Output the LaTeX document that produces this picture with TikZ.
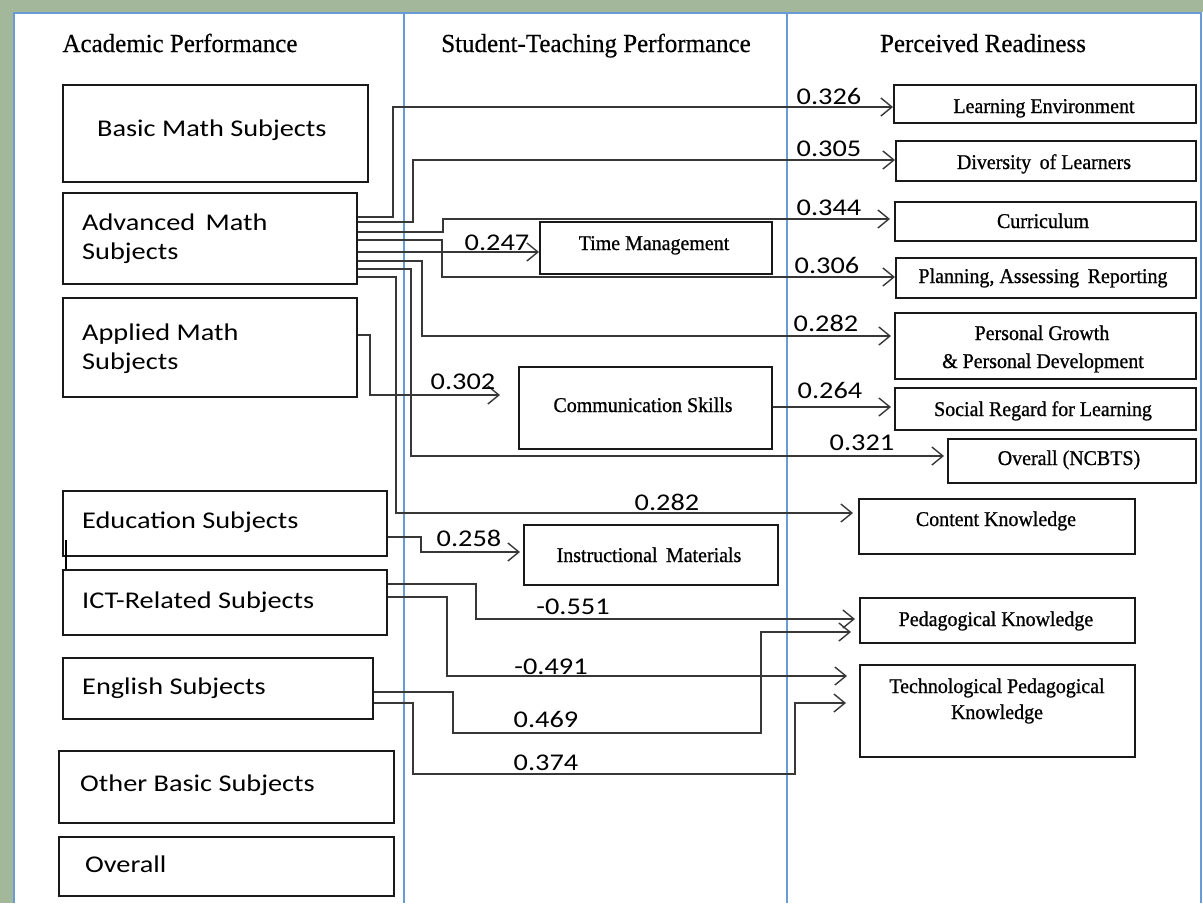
\documentclass[tikz,border=0pt]{standalone}
\usepackage{fontspec}
\usetikzlibrary{arrows.meta,calc}
\newfontfamily\sansf[FakeStretch=1.18]{Carlito}
\newfontfamily\serff[FakeStretch=0.95,FakeBold=0.8]{Liberation Serif}
\newfontfamily\serfh[FakeStretch=0.96,FakeBold=0.5]{Liberation Serif}
\definecolor{bggreen}{RGB}{163,184,155}
\definecolor{frameblue}{RGB}{105,155,215}
\definecolor{linegray}{RGB}{55,55,55}
\tikzset{
  box/.style={draw=black!90, line width=1.5pt, anchor=north west, inner sep=0pt},
  lt/.style={font=\sansf\fontsize{24}{29}\selectfont, anchor=base west, inner sep=0pt},
  num/.style={font=\sansf\fontsize{24}{29}\selectfont, inner sep=0pt},
  st/.style={font=\serff\fontsize{21}{25}\selectfont, anchor=base, inner sep=0pt},
  hd/.style={font=\serfh\fontsize{26}{30}\selectfont, anchor=base, inner sep=0pt},
  conn/.style={draw=linegray, line width=1.5pt},
  arr/.style={conn, -{Straight Barb[length=11pt,width=18pt,line width=1.4pt]}},
}
\begin{document}
\begin{tikzpicture}[x=1pt,y=-1pt]
\useasboundingbox (0,0) rectangle (1203,903);
\fill[bggreen] (0,0) rectangle (1203,903);
\fill[white] (13,12) rectangle (1203,903);
\draw[frameblue, line width=1.2pt] (14,903) -- (14,13) -- (1201,13) -- (1201,903);
\draw[frameblue, line width=1.2pt] (404,13) -- (404,903) (787,13) -- (787,903);

% headers
\node[hd] (h1) at (180,52) {Academic Performance};
\node[hd] (h2) at (596,52) {Student-Teaching Performance};
\node[hd] (h3) at (983,52) {Perceived Readiness};

% left boxes
\node[box, minimum width=305pt, minimum height=97pt] (basic) at (62,84) {};
\node[box, minimum width=294pt, minimum height=91pt] (adv) at (62,192) {};
\node[box, minimum width=294pt, minimum height=99pt] (appl) at (62,297) {};
\node[box, minimum width=324pt, minimum height=65pt] (edu) at (62,490) {};
\node[box, minimum width=324pt, minimum height=65pt] (ict) at (62,569) {};
\node[box, minimum width=310pt, minimum height=61pt] (eng) at (62,657) {};
\node[box, minimum width=335pt, minimum height=72pt] (other) at (58,750) {};
\node[box, minimum width=335pt, minimum height=59pt] (ovl) at (58,836) {};

\node[lt] (tbasic) at (97,136) {Basic Math Subjects};
\node[lt] (tadv1) at (82,230) {Advanced\, Math};
\node[lt] (tadv2) at (82,259) {Subjects};
\node[lt] (tappl1) at (82,340) {Applied Math};
\node[lt] (tappl2) at (82,369) {Subjects};
\node[lt] (tedu) at (82,528) {Education Subjects};
\node[lt] (tict) at (82,608) {ICT-Related Subjects};
\node[lt] (teng) at (82,694) {English Subjects};
\node[lt] (tother) at (80,791) {Other Basic Subjects};
\node[lt] (tovl) at (85,872) {Overall};

% middle boxes
\node[box, minimum width=232pt, minimum height=52pt] (tm) at (539,221) {};
\node[box, minimum width=253pt, minimum height=82pt] (cs) at (518,366) {};
\node[box, minimum width=254pt, minimum height=60pt] (im) at (523,524) {};
\node[st] (ttm) at (654,250) {Time Management};
\node[st] (tcs) at (643,412) {Communication Skills};
\node[st] (tim) at (649,562) {Instructional\, Materials};

% right boxes
\node[box, minimum width=302pt, minimum height=38pt] (le) at (893,84) {};
\node[box, minimum width=300pt, minimum height=40pt] (dl) at (895,140) {};
\node[box, minimum width=301pt, minimum height=39pt] (cu) at (894,201) {};
\node[box, minimum width=300pt, minimum height=40pt] (pa) at (895,257) {};
\node[box, minimum width=301pt, minimum height=66pt] (pg) at (894,312) {};
\node[box, minimum width=301pt, minimum height=42pt] (sr) at (894,387) {};
\node[box, minimum width=248pt, minimum height=44pt] (on) at (947,438) {};
\node[box, minimum width=276pt, minimum height=55pt] (ck) at (858,498) {};
\node[box, minimum width=275pt, minimum height=45pt] (pk) at (859,597) {};
\node[box, minimum width=275pt, minimum height=92pt] (tpk) at (859,664) {};

\node[st] (tle) at (1044,113) {Learning Environment};
\node[st] (tdl) at (1044,169) {Diversity\, of Learners};
\node[st] (tcu) at (1043,228) {Curriculum};
\node[st] (tpa) at (1043,283) {Planning, Assessing\, Reporting};
\node[st] (tpg1) at (1042,340) {Personal Growth};
\node[st] (tpg2) at (1043,368) {\& Personal Development};
\node[st] (tsr) at (1043,416) {Social Regard for Learning};
\node[st] (ton) at (1069,465) {Overall (NCBTS)};
\node[st] (tck) at (996,526) {Content Knowledge};
\node[st] (tpk1) at (996,626) {Pedagogical Knowledge};
\node[st] (ttpk1) at (997,693) {Technological Pedagogical};
\node[st] (ttpk2) at (997,719) {Knowledge};

% connectors
\draw[arr] (adv.east |- 0,217) -- (393,217) -- (393,107) -- (le.west |- 0,107);
\draw[arr] (adv.east |- 0,222) -- (413,222) -- (413,160) -- (dl.west |- 0,160);
\draw[arr, shorten >=4pt] (adv.east |- 0,232) -- (443,232) -- (443,219) -- (cu.west |- 0,219);
\draw[arr] (adv.east |- 0,252) -- (tm.west |- 0,252);
\draw[arr] (adv.east |- 0,240) -- (442,240) -- (442,277) -- (pa.west |- 0,277);
\draw[arr, shorten >=3pt] (adv.east |- 0,261) -- (422,261) -- (422,336) -- (pg.west |- 0,336);
\draw[arr, shorten >=3pt] (adv.east |- 0,269) -- (411,269) -- (411,456) -- (on.west |- 0,456);
\draw[arr, shorten >=5pt] (adv.east |- 0,277) -- (396,277) -- (396,513) -- (ck.west |- 0,513);
\draw[arr, shorten >=18pt] (appl.east |- 0,335) -- (370,335) -- (370,395) -- (cs.west |- 0,395);
\draw[arr, shorten >=3pt] (cs.east |- 0,407) -- (sr.west |- 0,407);
\draw[arr, shorten >=3pt] (edu.east |- 0,537) -- (421,537) -- (421,552) -- (im.west |- 0,552);
\draw[arr, shorten >=4pt] (ict.east |- 0,584) -- (476,584) -- (476,619) -- (pk.west |- 0,619);
\draw[arr, shorten >=12pt] (ict.east |- 0,597) -- (447,597) -- (447,676) -- (tpk.west |- 0,676);
\draw[arr, shorten >=8pt] (eng.east |- 0,692) -- (453,692) -- (453,733) -- (761,733) -- (761,632) -- (pk.west |- 0,632);
\draw[arr, shorten >=13pt] (eng.east |- 0,703) -- (413,703) -- (413,774) -- (795,774) -- (795,703) -- (tpk.west |- 0,703);
\draw[black, line width=1.2pt] (66,540) -- (66,569);

% labels
\node[num] (n1) at (829,96) {0.326};
\node[num] (n2) at (829,149) {0.305};
\node[num] (n3) at (829,208) {0.344};
\node[num] (n4) at (827,265) {0.306};
\node[num] (n5) at (826,323) {0.282};
\node[num] (n6) at (830,390) {0.264};
\node[num] (n7) at (862,443) {0.321};
\node[num] (n8) at (667,502) {0.282};
\node[num] (n9) at (497,243) {0.247};
\node[num] (n10) at (463,382) {0.302};
\node[num] (n11) at (469,538) {0.258};
\node[num] (n12) at (573,607) {-0.551};
\node[num] (n13) at (551,667) {-0.491};
\node[num] (n14) at (546,719) {0.469};
\node[num] (n15) at (546,763) {0.374};
\end{tikzpicture}
\end{document}
